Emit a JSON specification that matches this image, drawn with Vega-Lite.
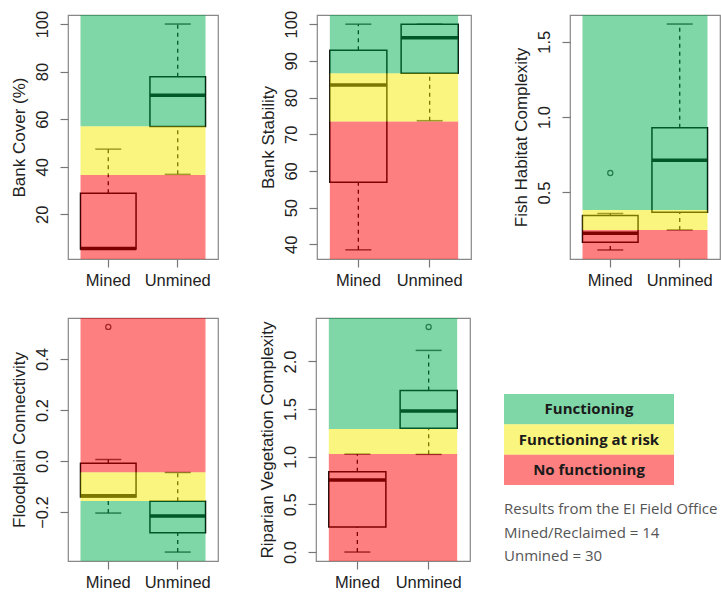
{
  "$schema": "https://vega.github.io/schema/vega-lite/v6.json",
  "padding": {"left": 9, "top": 9, "right": 0, "bottom": 0},
  "background": "white",
  "datasets": {
    "bc": [
      {"g": "Mined", "lo": 5.4, "q1": 5.4, "med": 5.6, "q3": 28.8, "hi": 47.4},
      {"g": "Unmined", "lo": 36.8, "q1": 56.9, "med": 70.1, "q3": 77.8, "hi": 100}
    ],
    "bc_z": [
      {"zone": "No functioning", "lo": 1.2, "hi": 36.5},
      {"zone": "Functioning at risk", "lo": 36.5, "hi": 57},
      {"zone": "Functioning", "lo": 57, "hi": 103.8}
    ],
    "bs": [
      {"g": "Mined", "lo": 38.5, "q1": 56.9, "med": 83.4, "q3": 92.9, "hi": 100},
      {"g": "Unmined", "lo": 73.7, "q1": 86.6, "med": 96.3, "q3": 100, "hi": 100}
    ],
    "bs_z": [
      {"zone": "No functioning", "lo": 36.0, "hi": 73.5},
      {"zone": "Functioning at risk", "lo": 73.5, "hi": 86.6},
      {"zone": "Functioning", "lo": 86.6, "hi": 102.5}
    ],
    "fh": [
      {"g": "Mined", "lo": 0.118, "q1": 0.169, "med": 0.229, "q3": 0.347, "hi": 0.36},
      {"g": "Unmined", "lo": 0.251, "q1": 0.369, "med": 0.713, "q3": 0.929, "hi": 1.618}
    ],
    "fh_o": [{"g": "Mined", "v": 0.629}],
    "fh_z": [
      {"zone": "No functioning", "lo": 0.058, "hi": 0.25},
      {"zone": "Functioning at risk", "lo": 0.25, "hi": 0.384},
      {"zone": "Functioning", "lo": 0.384, "hi": 1.678}
    ],
    "fc": [
      {"g": "Mined", "lo": -0.204, "q1": -0.141, "med": -0.136, "q3": -0.009, "hi": 0.006},
      {"g": "Unmined", "lo": -0.357, "q1": -0.281, "med": -0.216, "q3": -0.158, "hi": -0.045}
    ],
    "fc_o": [{"g": "Mined", "v": 0.526}],
    "fc_z": [
      {"zone": "Functioning", "lo": -0.392, "hi": -0.157},
      {"zone": "Functioning at risk", "lo": -0.157, "hi": -0.044},
      {"zone": "No functioning", "lo": -0.044, "hi": 0.561}
    ],
    "rv": [
      {"g": "Mined", "lo": 0.0, "q1": 0.263, "med": 0.755, "q3": 0.842, "hi": 1.028},
      {"g": "Unmined", "lo": 1.025, "q1": 1.299, "med": 1.481, "q3": 1.695, "hi": 2.116}
    ],
    "rv_o": [{"g": "Unmined", "v": 2.362}],
    "rv_z": [
      {"zone": "No functioning", "lo": -0.094, "hi": 1.03},
      {"zone": "Functioning at risk", "lo": 1.03, "hi": 1.29},
      {"zone": "Functioning", "lo": 1.29, "hi": 2.456}
    ],
    "zones": [
      {"zone": "Functioning"},
      {"zone": "Functioning at risk"},
      {"zone": "No functioning"}
    ]
  },
  "spacing": 27,
  "vconcat": [
    {
      "hconcat": [
        {
          "width": 150, "height": 244,
          "layer": [
            {
              "data": {"name": "bc"},
              "layer": [
                {"mark": {"type": "rule", "color": "black", "strokeWidth": 1.3, "strokeDash": [4, 4]},
                 "encoding": {"x": {"field": "g", "type": "nominal", "scale": {"type": "band", "domain": ["Mined", "Unmined"], "paddingInner": 0.2, "paddingOuter": 0.18}, "axis": {"title": null}},
                              "y": {"field": "lo", "type": "quantitative", "scale": {"domain": [1.2, 103.8], "nice": false, "zero": false}, "axis": {"title": "Bank Cover (%)", "values": [20, 40, 60, 80, 100], "format": "d"}},
                              "y2": {"field": "q1"}}},
                {"mark": {"type": "rule", "color": "black", "strokeWidth": 1.3, "strokeDash": [4, 4]},
                 "encoding": {"x": {"field": "g", "type": "nominal"}, "y": {"field": "q3", "type": "quantitative"}, "y2": {"field": "hi"}}},
                {"mark": {"type": "tick", "color": "black", "size": 26, "thickness": 1.5},
                 "encoding": {"x": {"field": "g", "type": "nominal"}, "y": {"field": "lo", "type": "quantitative"}}},
                {"mark": {"type": "tick", "color": "black", "size": 26, "thickness": 1.5},
                 "encoding": {"x": {"field": "g", "type": "nominal"}, "y": {"field": "hi", "type": "quantitative"}}},
                {"mark": {"type": "bar", "fill": "transparent", "stroke": "black", "strokeWidth": 1.5},
                 "encoding": {"x": {"field": "g", "type": "nominal"}, "y": {"field": "q1", "type": "quantitative"}, "y2": {"field": "q3"}}},
                {"mark": {"type": "bar", "fill": "transparent", "stroke": "black", "strokeWidth": 3.5},
                 "encoding": {"x": {"field": "g", "type": "nominal"}, "y": {"field": "med", "type": "quantitative"}, "y2": {"field": "med"}}}
              ]
            },
            {
              "data": {"name": "bc_z"},
              "mark": {"type": "rect", "opacity": 0.5, "clip": true},
              "encoding": {
                "x": {"datum": 0.6, "type": "quantitative", "scale": {"domain": [0.42, 2.58], "nice": false, "zero": false}, "axis": null},
                "x2": {"datum": 2.4},
                "y": {"field": "lo", "type": "quantitative"},
                "y2": {"field": "hi"},
                "fill": {"field": "zone", "type": "nominal", "scale": {"domain": ["Functioning", "Functioning at risk", "No functioning"], "range": ["#00AD4D", "#F5EB00", "#FB0000"]}, "legend": null}
              }
            }
          ],
          "resolve": {"scale": {"x": "independent"}}
        },
        {
          "width": 154, "height": 244,
          "layer": [
            {
              "data": {"name": "bs"},
              "layer": [
                {"mark": {"type": "rule", "color": "black", "strokeWidth": 1.3, "strokeDash": [4, 4]},
                 "encoding": {"x": {"field": "g", "type": "nominal", "scale": {"type": "band", "domain": ["Mined", "Unmined"], "paddingInner": 0.2, "paddingOuter": 0.18}, "axis": {"title": null}},
                              "y": {"field": "lo", "type": "quantitative", "scale": {"domain": [36.0, 102.5], "nice": false, "zero": false}, "axis": {"title": "Bank Stability", "values": [40, 50, 60, 70, 80, 90, 100], "format": "d"}},
                              "y2": {"field": "q1"}}},
                {"mark": {"type": "rule", "color": "black", "strokeWidth": 1.3, "strokeDash": [4, 4]},
                 "encoding": {"x": {"field": "g", "type": "nominal"}, "y": {"field": "q3", "type": "quantitative"}, "y2": {"field": "hi"}}},
                {"mark": {"type": "tick", "color": "black", "size": 26, "thickness": 1.5},
                 "encoding": {"x": {"field": "g", "type": "nominal"}, "y": {"field": "lo", "type": "quantitative"}}},
                {"mark": {"type": "tick", "color": "black", "size": 26, "thickness": 1.5},
                 "encoding": {"x": {"field": "g", "type": "nominal"}, "y": {"field": "hi", "type": "quantitative"}}},
                {"mark": {"type": "bar", "fill": "transparent", "stroke": "black", "strokeWidth": 1.5},
                 "encoding": {"x": {"field": "g", "type": "nominal"}, "y": {"field": "q1", "type": "quantitative"}, "y2": {"field": "q3"}}},
                {"mark": {"type": "bar", "fill": "transparent", "stroke": "black", "strokeWidth": 3.5},
                 "encoding": {"x": {"field": "g", "type": "nominal"}, "y": {"field": "med", "type": "quantitative"}, "y2": {"field": "med"}}}
              ]
            },
            {
              "data": {"name": "bs_z"},
              "mark": {"type": "rect", "opacity": 0.5, "clip": true},
              "encoding": {
                "x": {"datum": 0.6, "type": "quantitative", "scale": {"domain": [0.42, 2.58], "nice": false, "zero": false}, "axis": null},
                "x2": {"datum": 2.4},
                "y": {"field": "lo", "type": "quantitative"},
                "y2": {"field": "hi"},
                "fill": {"field": "zone", "type": "nominal", "scale": {"domain": ["Functioning", "Functioning at risk", "No functioning"], "range": ["#00AD4D", "#F5EB00", "#FB0000"]}, "legend": null}
              }
            }
          ],
          "resolve": {"scale": {"x": "independent"}}
        },
        {
          "width": 150, "height": 244,
          "layer": [
            {
              "data": {"name": "fh"},
              "layer": [
                {"mark": {"type": "rule", "color": "black", "strokeWidth": 1.3, "strokeDash": [4, 4]},
                 "encoding": {"x": {"field": "g", "type": "nominal", "scale": {"type": "band", "domain": ["Mined", "Unmined"], "paddingInner": 0.2, "paddingOuter": 0.18}, "axis": {"title": null}},
                              "y": {"field": "lo", "type": "quantitative", "scale": {"domain": [0.058, 1.678], "nice": false, "zero": false}, "axis": {"title": "Fish Habitat Complexity", "values": [0.5, 1.0, 1.5], "format": ".1f"}},
                              "y2": {"field": "q1"}}},
                {"mark": {"type": "rule", "color": "black", "strokeWidth": 1.3, "strokeDash": [4, 4]},
                 "encoding": {"x": {"field": "g", "type": "nominal"}, "y": {"field": "q3", "type": "quantitative"}, "y2": {"field": "hi"}}},
                {"mark": {"type": "tick", "color": "black", "size": 26, "thickness": 1.5},
                 "encoding": {"x": {"field": "g", "type": "nominal"}, "y": {"field": "lo", "type": "quantitative"}}},
                {"mark": {"type": "tick", "color": "black", "size": 26, "thickness": 1.5},
                 "encoding": {"x": {"field": "g", "type": "nominal"}, "y": {"field": "hi", "type": "quantitative"}}},
                {"mark": {"type": "bar", "fill": "transparent", "stroke": "black", "strokeWidth": 1.5},
                 "encoding": {"x": {"field": "g", "type": "nominal"}, "y": {"field": "q1", "type": "quantitative"}, "y2": {"field": "q3"}}},
                {"mark": {"type": "bar", "fill": "transparent", "stroke": "black", "strokeWidth": 3.5},
                 "encoding": {"x": {"field": "g", "type": "nominal"}, "y": {"field": "med", "type": "quantitative"}, "y2": {"field": "med"}}},
                {"data": {"name": "fh_o"}, "mark": {"type": "point", "shape": "circle", "filled": false, "color": "black", "size": 26, "strokeWidth": 1.3},
                 "encoding": {"x": {"field": "g", "type": "nominal"}, "y": {"field": "v", "type": "quantitative"}}}
              ]
            },
            {
              "data": {"name": "fh_z"},
              "mark": {"type": "rect", "opacity": 0.5, "clip": true},
              "encoding": {
                "x": {"datum": 0.6, "type": "quantitative", "scale": {"domain": [0.42, 2.58], "nice": false, "zero": false}, "axis": null},
                "x2": {"datum": 2.4},
                "y": {"field": "lo", "type": "quantitative"},
                "y2": {"field": "hi"},
                "fill": {"field": "zone", "type": "nominal", "scale": {"domain": ["Functioning", "Functioning at risk", "No functioning"], "range": ["#00AD4D", "#F5EB00", "#FB0000"]}, "legend": null}
              }
            }
          ],
          "resolve": {"scale": {"x": "independent"}}
        }
      ],
      "bounds": "flush",
      "align": "each",
      "spacing": 99
    },
    {
      "hconcat": [
        {
          "width": 150, "height": 243,
          "layer": [
            {
              "data": {"name": "fc"},
              "layer": [
                {"mark": {"type": "rule", "color": "black", "strokeWidth": 1.3, "strokeDash": [4, 4]},
                 "encoding": {"x": {"field": "g", "type": "nominal", "scale": {"type": "band", "domain": ["Mined", "Unmined"], "paddingInner": 0.2, "paddingOuter": 0.18}, "axis": {"title": null}},
                              "y": {"field": "lo", "type": "quantitative", "scale": {"domain": [-0.392, 0.561], "nice": false, "zero": false}, "axis": {"title": "Floodplain Connectivity", "values": [-0.2, 0.0, 0.2, 0.4], "format": ".1f"}},
                              "y2": {"field": "q1"}}},
                {"mark": {"type": "rule", "color": "black", "strokeWidth": 1.3, "strokeDash": [4, 4]},
                 "encoding": {"x": {"field": "g", "type": "nominal"}, "y": {"field": "q3", "type": "quantitative"}, "y2": {"field": "hi"}}},
                {"mark": {"type": "tick", "color": "black", "size": 26, "thickness": 1.5},
                 "encoding": {"x": {"field": "g", "type": "nominal"}, "y": {"field": "lo", "type": "quantitative"}}},
                {"mark": {"type": "tick", "color": "black", "size": 26, "thickness": 1.5},
                 "encoding": {"x": {"field": "g", "type": "nominal"}, "y": {"field": "hi", "type": "quantitative"}}},
                {"mark": {"type": "bar", "fill": "transparent", "stroke": "black", "strokeWidth": 1.5},
                 "encoding": {"x": {"field": "g", "type": "nominal"}, "y": {"field": "q1", "type": "quantitative"}, "y2": {"field": "q3"}}},
                {"mark": {"type": "bar", "fill": "transparent", "stroke": "black", "strokeWidth": 3.5},
                 "encoding": {"x": {"field": "g", "type": "nominal"}, "y": {"field": "med", "type": "quantitative"}, "y2": {"field": "med"}}},
                {"data": {"name": "fc_o"}, "mark": {"type": "point", "shape": "circle", "filled": false, "color": "black", "size": 26, "strokeWidth": 1.3},
                 "encoding": {"x": {"field": "g", "type": "nominal"}, "y": {"field": "v", "type": "quantitative"}}}
              ]
            },
            {
              "data": {"name": "fc_z"},
              "mark": {"type": "rect", "opacity": 0.5, "clip": true},
              "encoding": {
                "x": {"datum": 0.6, "type": "quantitative", "scale": {"domain": [0.42, 2.58], "nice": false, "zero": false}, "axis": null},
                "x2": {"datum": 2.4},
                "y": {"field": "lo", "type": "quantitative"},
                "y2": {"field": "hi"},
                "fill": {"field": "zone", "type": "nominal", "scale": {"domain": ["Functioning", "Functioning at risk", "No functioning"], "range": ["#00AD4D", "#F5EB00", "#FB0000"]}, "legend": null}
              }
            }
          ],
          "resolve": {"scale": {"x": "independent"}}
        },
        {
          "hconcat": [
            {
              "width": 154, "height": 243,
              "layer": [
                {
                  "data": {"name": "rv"},
                  "layer": [
                    {"mark": {"type": "rule", "color": "black", "strokeWidth": 1.3, "strokeDash": [4, 4]},
                     "encoding": {"x": {"field": "g", "type": "nominal", "scale": {"type": "band", "domain": ["Mined", "Unmined"], "paddingInner": 0.2, "paddingOuter": 0.18}, "axis": {"title": null}},
                                  "y": {"field": "lo", "type": "quantitative", "scale": {"domain": [-0.094, 2.456], "nice": false, "zero": false}, "axis": {"title": "Riparian Vegetation Complexity", "values": [0.0, 0.5, 1.0, 1.5, 2.0], "format": ".1f"}},
                                  "y2": {"field": "q1"}}},
                    {"mark": {"type": "rule", "color": "black", "strokeWidth": 1.3, "strokeDash": [4, 4]},
                     "encoding": {"x": {"field": "g", "type": "nominal"}, "y": {"field": "q3", "type": "quantitative"}, "y2": {"field": "hi"}}},
                    {"mark": {"type": "tick", "color": "black", "size": 26, "thickness": 1.5},
                     "encoding": {"x": {"field": "g", "type": "nominal"}, "y": {"field": "lo", "type": "quantitative"}}},
                    {"mark": {"type": "tick", "color": "black", "size": 26, "thickness": 1.5},
                     "encoding": {"x": {"field": "g", "type": "nominal"}, "y": {"field": "hi", "type": "quantitative"}}},
                    {"mark": {"type": "bar", "fill": "transparent", "stroke": "black", "strokeWidth": 1.5},
                     "encoding": {"x": {"field": "g", "type": "nominal"}, "y": {"field": "q1", "type": "quantitative"}, "y2": {"field": "q3"}}},
                    {"mark": {"type": "bar", "fill": "transparent", "stroke": "black", "strokeWidth": 3.5},
                     "encoding": {"x": {"field": "g", "type": "nominal"}, "y": {"field": "med", "type": "quantitative"}, "y2": {"field": "med"}}},
                    {"data": {"name": "rv_o"}, "mark": {"type": "point", "shape": "circle", "filled": false, "color": "black", "size": 26, "strokeWidth": 1.3},
                     "encoding": {"x": {"field": "g", "type": "nominal"}, "y": {"field": "v", "type": "quantitative"}}}
                  ]
                },
                {
                  "data": {"name": "rv_z"},
                  "mark": {"type": "rect", "opacity": 0.5, "clip": true},
                  "encoding": {
                    "x": {"datum": 0.6, "type": "quantitative", "scale": {"domain": [0.42, 2.58], "nice": false, "zero": false}, "axis": null},
                    "x2": {"datum": 2.4},
                    "y": {"field": "lo", "type": "quantitative"},
                    "y2": {"field": "hi"},
                    "fill": {"field": "zone", "type": "nominal", "scale": {"domain": ["Functioning", "Functioning at risk", "No functioning"], "range": ["#00AD4D", "#F5EB00", "#FB0000"]}, "legend": null}
                  }
                }
              ],
              "resolve": {"scale": {"x": "independent"}}
            },
            {
              "width": 170, "height": 91,
              "view": {"stroke": null},
              "data": {"name": "zones"},
              "title": {
                "text": ["Results from the EI Field Office", "Mined/Reclaimed = 14", "Unmined = 30"],
                "orient": "bottom", "anchor": "start", "baseline": "top",
                "font": "Open Sans", "fontSize": 15, "fontWeight": "normal", "color": "#555555",
                "lineHeight": 23.5, "offset": 17
              },
              "encoding": {
                "y": {"field": "zone", "type": "nominal", "scale": {"type": "band", "domain": ["Functioning", "Functioning at risk", "No functioning"], "paddingInner": 0, "paddingOuter": 0}, "axis": null}
              },
              "layer": [
                {
                  "mark": {"type": "rect", "opacity": 0.5},
                  "encoding": {
                    "fill": {"field": "zone", "type": "nominal", "scale": {"domain": ["Functioning", "Functioning at risk", "No functioning"], "range": ["#00AD4D", "#F5EB00", "#FB0000"]}, "legend": null}
                  }
                },
                {
                  "mark": {"type": "text", "font": "Open Sans", "fontWeight": "bold", "fontSize": 15, "color": "#1a1a1a"},
                  "encoding": {"text": {"field": "zone"}}
                }
              ]
            }
          ],
          "bounds": "flush",
          "align": "each",
          "center": true,
          "spacing": 34
        }
      ],
      "bounds": "flush",
      "align": "each",
      "spacing": 98
    }
  ],
  "config": {
    "font": "Liberation Sans",
    "view": {"stroke": "#888888", "strokeWidth": 1.2},
    "axis": {
      "labelFont": "Liberation Sans", "labelFontSize": 16.5, "labelColor": "#222222",
      "titleFont": "Liberation Sans", "titleFontSize": 17, "titleFontWeight": "normal", "titleColor": "#222222",
      "tickColor": "#777777", "tickSize": 8, "tickWidth": 1.2, "domain": false, "grid": false,
      "labelFlush": false, "labelOverlap": false
    },
    "axisY": {"labelAngle": -90, "labelAlign": "center", "labelBaseline": "bottom", "labelPadding": 10, "titlePadding": 6},
    "axisX": {"labelAngle": 0, "labelPadding": 5}
  }
}
